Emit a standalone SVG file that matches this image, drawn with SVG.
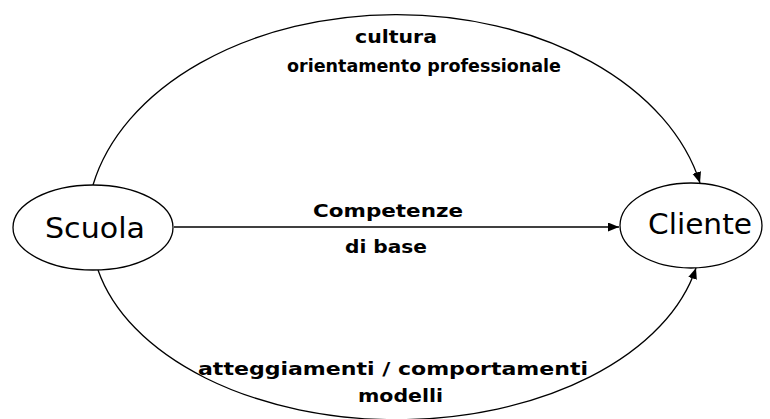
<svg xmlns="http://www.w3.org/2000/svg" width="770" height="419" viewBox="0 0 770 419">
<style>
.node{fill:#fff;stroke:#000;stroke-width:1.3}
.conn{fill:none;stroke:#000;stroke-width:1.3}
.nt{font-family:"DejaVu Sans",Verdana,sans-serif;font-size:28px;fill:#000;text-anchor:middle}
.lb{font-family:"DejaVu Sans",Verdana,sans-serif;font-size:18px;font-weight:bold;fill:#000}
</style>
<defs>
<marker id="ah" markerUnits="userSpaceOnUse" markerWidth="12" markerHeight="10" refX="11" refY="4.5" orient="auto">
<path d="M0,0 L11,4.5 L0,9 z" fill="#000"/>
</marker>
</defs>
<rect width="770" height="419" fill="#fff"/>
<g id="connectors">
<path class="conn" d="M93,185 A310.3,214 0 0 1 700,183" marker-end="url(#ah)"/>
<path class="conn" d="M174,227 L619,227" marker-end="url(#ah)"/>
<path class="conn" d="M98,270 A305.6,190 0 0 0 696,268" marker-end="url(#ah)"/>
</g>
<g id="labels">
<text class="lb" x="355" y="43" textLength="82" lengthAdjust="spacingAndGlyphs">cultura</text>
<text class="lb" x="287" y="72" textLength="274" lengthAdjust="spacingAndGlyphs">orientamento professionale</text>
<text class="lb" x="313" y="217" textLength="150" lengthAdjust="spacingAndGlyphs">Competenze</text>
<text class="lb" x="345" y="253" textLength="82" lengthAdjust="spacingAndGlyphs">di base</text>
<text class="lb" x="198" y="375" textLength="390" lengthAdjust="spacingAndGlyphs">atteggiamenti / comportamenti</text>
<text class="lb" x="358" y="402" textLength="85" lengthAdjust="spacingAndGlyphs">modelli</text>
</g>
<g id="scuola">
<ellipse class="node" cx="93" cy="227.5" rx="80" ry="42.5"/>
<text class="nt" x="95" y="238" textLength="100" lengthAdjust="spacingAndGlyphs">Scuola</text>
</g>
<g id="cliente">
<ellipse class="node" cx="691" cy="225.5" rx="71" ry="42.5"/>
<text class="nt" x="700" y="234" textLength="104" lengthAdjust="spacingAndGlyphs">Cliente</text>
</g>
</svg>
